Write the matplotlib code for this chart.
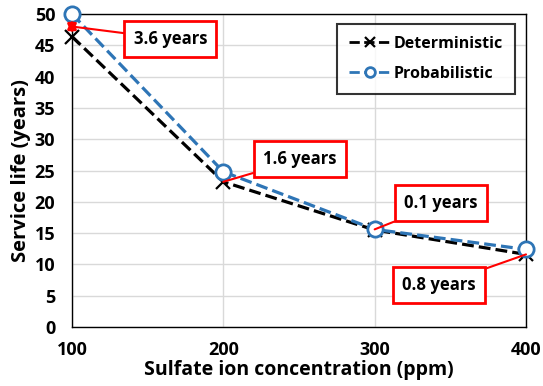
import matplotlib
matplotlib.use("Agg")
import matplotlib.pyplot as plt

plt.rcParams['font.family'] = ['Open Sans', 'DejaVu Sans']
plt.rcParams['font.weight'] = 'bold'

# data
conc = [100, 200, 300, 400]
deterministic = [46.4, 23.2, 15.5, 11.6]
probabilistic = [50.0, 24.8, 15.6, 12.4]
diff_labels = ['3.6 years', '1.6 years', '0.1 years', '0.8 years']
label_pos = [(165, 46.0), (250.5, 26.8), (343.7, 19.8), (342.4, 6.7)]
label_target = [(100, 48.0), (200, 23.2), (300, 15.6), (400, 11.6)]

fig = plt.figure(figsize=(5.43, 3.86), dpi=100)
ax = fig.add_axes([0.1326, 0.1528, 0.8361, 0.8109])

ax.plot(conc, deterministic, color='black', ls='--', lw=2.3, marker='x',
        ms=10, mew=1.6, label='Deterministic', clip_on=False, zorder=3)
ax.plot(conc, probabilistic, color='#2E75B6', ls='--', lw=2.3, marker='o',
        ms=11, mfc='white', mec='#2E75B6', mew=2, label='Probabilistic',
        clip_on=False, zorder=4)

# red double arrow showing the gap at 100 ppm
ax.annotate('', xy=(100, 49.1), xytext=(100, 46.9),
            arrowprops=dict(arrowstyle='<|-|>', color='red', lw=2.2,
                            mutation_scale=12, shrinkA=0, shrinkB=0),
            annotation_clip=False, zorder=7)

for txt, pos, tgt in zip(diff_labels, label_pos, label_target):
    ax.annotate(txt, xy=tgt, xytext=pos, ha='center', va='center',
                fontsize=12, fontweight='bold',
                bbox=dict(boxstyle='square,pad=0.55', fc='white', ec='red', lw=2),
                arrowprops=dict(arrowstyle='-', color='red', lw=1.5,
                                shrinkA=0, shrinkB=0),
                annotation_clip=False, zorder=6)

ax.set_xlim(100, 400)
ax.set_ylim(0, 50)
ax.set_xticks(conc)
ax.set_yticks(range(0, 51, 5))
ax.grid(True, color='#d9d9d9', lw=1)
ax.set_axisbelow(True)
ax.tick_params(axis='both', length=0, labelsize=13)
ax.tick_params(axis='x', pad=10)
ax.tick_params(axis='y', pad=12)
for s in ax.spines.values():
    s.set_color('black')
    s.set_linewidth(1)

ax.set_xlabel('Sulfate ion concentration (ppm)', fontsize=14, fontweight='bold', labelpad=1)
ax.set_ylabel('Service life (years)', fontsize=14.5, fontweight='bold', labelpad=3)

leg = ax.legend(loc='upper right', bbox_to_anchor=(0.976, 0.968), fontsize=11.5,
                frameon=True, fancybox=False, edgecolor='black', handlelength=2.6,
                borderpad=0.75, labelspacing=0.85, handletextpad=0.2,
                borderaxespad=0)
leg.get_frame().set_linewidth(1.5)
for h in leg.legend_handles:
    h.set_markersize(7)
    h.set_linewidth(2)

fig.savefig('out.png', dpi=100)
